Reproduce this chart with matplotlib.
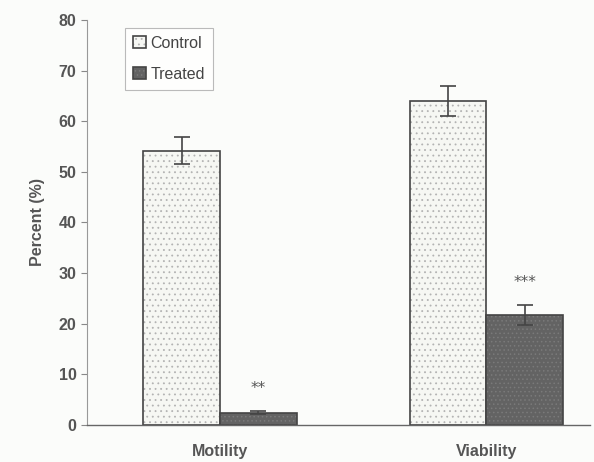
import matplotlib.pyplot as plt
import numpy as np

categories = ["Motility", "Viability"]
control = [54.2, 64.0]
control_err = [2.6, 2.9]
treated = [2.4, 21.7]
treated_err = [0.3, 2.0]
stars = ["**", "***"]

fig = plt.figure(figsize=(5.94, 4.62), dpi=100)
fig.patch.set_facecolor("#fbfcfa")
ax = fig.add_axes([0.1465, 0.080, 0.847, 0.877])
ax.set_facecolor("#fbfcfa")

x = np.arange(len(categories))
w = 0.288
plt.rcParams["hatch.linewidth"] = 0.6

b1 = ax.bar(x - w / 2, control, w, color="#f6f7f3", edgecolor="#444444",
            linewidth=1.2, hatch="...", label="Control", zorder=2)
for p in b1:
    p._hatch_color = (0.7, 0.7, 0.7, 1.0)
b2 = ax.bar(x + w / 2, treated, w, color="#636363", edgecolor="#444444",
            linewidth=1.2, hatch="....", label="Treated", zorder=2)
for p in b2:
    p._hatch_color = (0.48, 0.48, 0.48, 1.0)

ax.errorbar(x - w / 2, control, yerr=control_err, fmt="none", ecolor="#444444",
            elinewidth=1.2, capsize=6, capthick=1.2, zorder=3)
ax.errorbar(x + w / 2, treated, yerr=treated_err, fmt="none", ecolor="#444444",
            elinewidth=1.2, capsize=6, capthick=1.2, zorder=3)

for xi, v, e, s in zip(x, treated, treated_err, stars):
    ax.text(xi + w / 2, v + e + 4.5, s, ha="center", va="center",
            fontsize=11, color="#555555")

ax.set_xlim(-0.5, 1.39)
ax.set_ylim(0, 80)
ax.set_yticks(range(0, 81, 10))
ax.set_xticks(x)
ax.set_xticklabels(categories, fontsize=11.5, fontweight="bold", color="#555555",
                   family="Liberation Sans")
ax.tick_params(axis="x", length=0, pad=14)
ax.tick_params(axis="y", length=4, width=0.8, color="#888888", labelsize=11.5,
               labelcolor="#555555", direction="out")
for lab in ax.get_yticklabels():
    lab.set_fontweight("bold")
    lab.set_family("Liberation Sans")

ax.set_ylabel("Percent (%)", fontsize=11.5, fontweight="bold", color="#555555",
              family="Liberation Sans", labelpad=10)

ax.spines["top"].set_visible(False)
ax.spines["right"].set_visible(False)
ax.spines["left"].set_color("#999999")
ax.spines["left"].set_linewidth(0.8)
ax.spines["bottom"].set_color("#666666")
ax.spines["bottom"].set_linewidth(1.0)

leg = ax.legend(loc="upper left", bbox_to_anchor=(0.06, 1.0),
                frameon=True, fancybox=False, edgecolor="#aaaaaa",
                handlelength=0.8, handleheight=0.8, handletextpad=0.3,
                labelspacing=1.0, borderpad=0.5,
                prop={"family": "Liberation Sans", "size": 11.5})
leg.get_frame().set_linewidth(0.8)
for t in leg.get_texts():
    t.set_color("#444444")

fig.savefig("out.png", dpi=100, facecolor=fig.get_facecolor())
